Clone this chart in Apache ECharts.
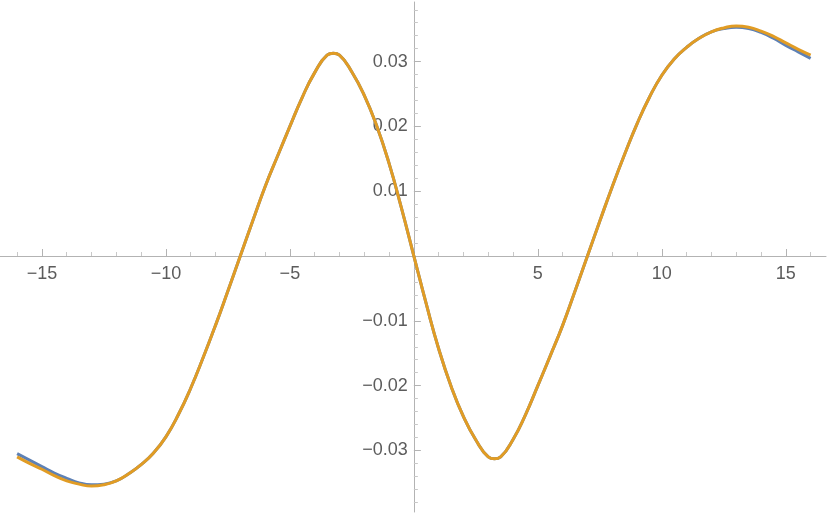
<!DOCTYPE html>
<html>
<head>
<meta charset="utf-8">
<script src="https://cdn.jsdelivr.net/npm/echarts@6/dist/echarts.min.js"></script>
<style>
  html, body { margin: 0; padding: 0; background: #fff; }
  #chart { width: 830px; height: 514px; }
</style>
</head>
<body>
<div id="chart"></div>
<script>
// sample positions along x
const xs = [
  -16, -15.5, -15, -14.5, -14, -13.5, -13, -12.5, -12, -11.5, -11, -10.5, -10, -9.5, -9, -8.5, -8, -7.5, -7, -6.5,
  -6, -5.5, -5, -4.5, -4, -3.5, -3.25, -3, -2.5, -2, -1.5, -1, -0.5, 0,
  0.5, 1, 1.5, 2, 2.5, 3, 3.25, 3.5, 4, 4.5, 5, 5.5, 6, 6.5, 7, 7.5, 8, 8.5, 9, 9.5, 10,
  10.5, 11, 11.5, 12, 12.5, 13, 13.5, 14, 14.5, 15, 15.5, 16
];
// blue curve (drawn first)
const blueY = [
  -0.0305, -0.0315, -0.0325, -0.0335, -0.0343, -0.0350, -0.0353, -0.0352, -0.0347, -0.0336, -0.0322, -0.0304, -0.0279, -0.0245, -0.0204, -0.0157, -0.0107, -0.0054, 0.0000, 0.0054,
  0.0107, 0.0154, 0.0200, 0.0245, 0.0283, 0.0310, 0.0313, 0.0310, 0.0284, 0.0248, 0.0201, 0.0143, 0.0074, 0,
  -0.0074, -0.0143, -0.0201, -0.0248, -0.0284, -0.0310, -0.0313, -0.0310, -0.0283, -0.0245, -0.0200, -0.0154, -0.0107, -0.0054, 0.0000, 0.0054, 0.0107, 0.0157, 0.0204, 0.0245, 0.0279,
  0.0304, 0.0322, 0.0336, 0.0346, 0.0351, 0.0353, 0.0351, 0.0345, 0.0336, 0.0325, 0.0315, 0.0305
];
// orange curve (on top)
const orangeY = [
  -0.0310, -0.0320, -0.0329, -0.0339, -0.0347, -0.0352, -0.0355, -0.0353, -0.0347, -0.0336, -0.0322, -0.0304, -0.0279, -0.0245, -0.0204, -0.0157, -0.0107, -0.0054, 0.0000, 0.0054,
  0.0107, 0.0154, 0.0200, 0.0245, 0.0283, 0.0310, 0.0313, 0.0310, 0.0284, 0.0248, 0.0201, 0.0143, 0.0074, 0,
  -0.0074, -0.0143, -0.0201, -0.0248, -0.0284, -0.0310, -0.0313, -0.0310, -0.0283, -0.0245, -0.0200, -0.0154, -0.0107, -0.0054, 0.0000, 0.0054, 0.0107, 0.0157, 0.0204, 0.0245, 0.0279,
  0.0304, 0.0322, 0.0336, 0.0346, 0.0352, 0.0355, 0.0353, 0.0347, 0.0339, 0.0329, 0.0319, 0.0310
];

// ticks and labels (0 has no label, as in the original)
const xTickLabels = [-15, -10, -5, 5, 10, 15];
const xMajorTicks = [-15, -10, -5, 0, 5, 10, 15];
const xMinorTicks = [-16, -14, -13, -12, -11, -9, -8, -7, -6, -4, -3, -2, -1, 1, 2, 3, 4, 6, 7, 8, 9, 11, 12, 13, 14, 16];
const yTickLabels = [-0.03, -0.02, -0.01, 0.01, 0.02, 0.03];
const yMinorTicks = [-0.038, -0.036, -0.034, -0.032, -0.028, -0.026, -0.024, -0.022, -0.018, -0.016, -0.014, -0.012,
  -0.008, -0.006, -0.004, -0.002, 0.002, 0.004, 0.006, 0.008, 0.012, 0.014, 0.016, 0.018,
  0.022, 0.024, 0.026, 0.028, 0.032, 0.034, 0.036, 0.038];

const X_MIN = -16.69, X_MAX = 16.62;
const Y_MIN = -0.0395, Y_MAX = 0.0392;

// grid box in px; axes are shifted onto the zero lines with offset
const G = { left: 0, right: 4, top: 2, bottom: 2, w: 830, h: 514 };
const gw = G.w - G.left - G.right;
const gh = G.h - G.top - G.bottom;
const zeroX = G.left + (0 - X_MIN) / (X_MAX - X_MIN) * gw;   // px from left
const zeroY = G.top + (Y_MAX - 0) / (Y_MAX - Y_MIN) * gh;    // px from top

const axisGrey = '#b3b3b3';
const minorGrey = '#c8c8c8';
const labelGrey = '#5c5c5c';

const chart = echarts.init(document.getElementById('chart'));

const minus = (s) => s.replace('-', '\u2212');

const option = {
  animation: false,
  grid: { left: G.left, right: G.right, top: G.top, bottom: G.bottom, containLabel: false, outerBoundsMode: 'none' },
  xAxis: [
    {
      type: 'value', min: X_MIN, max: X_MAX, position: 'bottom',
      offset: -(G.h - G.bottom - zeroY),
      axisLine: { onZero: false, lineStyle: { color: axisGrey, width: 1 } },
      axisTick: { show: true, inside: true, length: 7, customValues: xMajorTicks, lineStyle: { color: axisGrey } },
      axisLabel: {
        customValues: xTickLabels, margin: 9, color: labelGrey, fontSize: 18, fontFamily: 'Liberation Sans',
        formatter: (v) => minus(String(v))
      },
      splitLine: { show: false }
    },
    {
      type: 'value', min: X_MIN, max: X_MAX, position: 'top',
      offset: -(zeroY - G.top),
      axisLine: { show: false, onZero: false },
      axisTick: { show: true, inside: false, length: 4, customValues: xMinorTicks, lineStyle: { color: minorGrey } },
      axisLabel: { show: false },
      splitLine: { show: false }
    }
  ],
  yAxis: [
    {
      type: 'value', min: Y_MIN, max: Y_MAX, position: 'left',
      offset: -(zeroX - G.left),
      axisLine: { show: true, onZero: false, lineStyle: { color: axisGrey, width: 1 } },
      axisTick: { show: true, inside: true, length: 7, customValues: yTickLabels, lineStyle: { color: axisGrey } },
      axisLabel: {
        customValues: yTickLabels, margin: 6, color: labelGrey, fontSize: 18, fontFamily: 'Liberation Sans',
        formatter: (v) => minus(Number(v).toFixed(2))
      },
      splitLine: { show: false }
    },
    {
      type: 'value', min: Y_MIN, max: Y_MAX, position: 'right',
      offset: -(G.w - G.right - zeroX),
      axisLine: { show: false, onZero: false },
      axisTick: { show: true, inside: false, length: 4, customValues: yMinorTicks, lineStyle: { color: minorGrey } },
      axisLabel: { show: false },
      splitLine: { show: false }
    }
  ],
  series: [
    {
      name: 'blue', type: 'line', xAxisIndex: 0, yAxisIndex: 0,
      data: xs.map((x, i) => [x, blueY[i]]),
      showSymbol: false, smooth: 0.5,
      lineStyle: { color: '#5e81b5', width: 3 },
      itemStyle: { color: '#5e81b5' }
    },
    {
      name: 'orange', type: 'line', xAxisIndex: 0, yAxisIndex: 0,
      data: xs.map((x, i) => [x, orangeY[i]]),
      showSymbol: false, smooth: 0.5,
      lineStyle: { color: '#e19c24', width: 3 },
      itemStyle: { color: '#e19c24' }
    }
  ]
};

chart.setOption(option);
</script>
</body>
</html>
